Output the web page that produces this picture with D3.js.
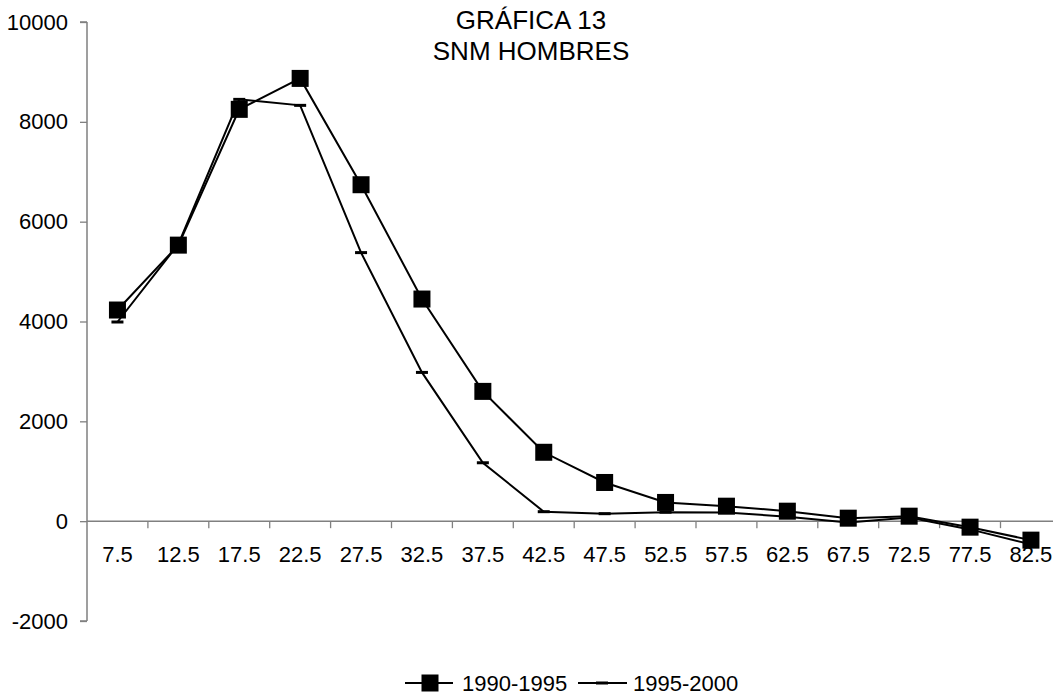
<!DOCTYPE html>
<html>
<head>
<meta charset="utf-8">
<script src="https://cdn.jsdelivr.net/npm/d3@7"></script>
<style>
  html, body { margin: 0; padding: 0; background: #fff; }
  svg { display: block; font-family: "Liberation Sans", Arial, sans-serif; }
</style>
</head>
<body>
<svg id="chart" width="1053" height="696"></svg>
<script>
const categories = ["7.5","12.5","17.5","22.5","27.5","32.5","37.5","42.5","47.5","52.5","57.5","62.5","67.5","72.5","77.5","82.5"];
const series1990 = [4230, 5530, 8250, 8870, 6740, 4450, 2600, 1380, 775, 375, 300, 200, 60, 100, -120, -380];
const series1995 = [3990, 5550, 8450, 8330, 5380, 2980, 1170, 190, 150, 180, 175, 90, -25, 75, -165, -465];
const yTicks = [-2000, 0, 2000, 4000, 6000, 8000, 10000];
const titleLines = ["GRÁFICA 13", "SNM HOMBRES"];
const legendLabels = ["1990-1995", "1995-2000"];

const svg = d3.select("#chart");
const x = d3.scaleBand().domain(categories).range([87, 87 + 16 * 60.9]).padding(0);
const y = d3.scaleLinear().domain([-2000, 10000]).range([621, 22]);
const axisColor = "#808080";
const cx = d => x(d) + x.bandwidth() / 2;

// Title
svg.append("g").selectAll("text").data(titleLines).join("text")
  .attr("x", 531).attr("y", (d, i) => 29 + i * 31)
  .attr("text-anchor", "middle").attr("font-size", 26).attr("fill", "#000")
  .text(d => d);

// Y axis
const yAxis = d3.axisLeft(y).tickValues(yTicks).tickSize(7).tickPadding(12).tickFormat(d => String(d));
const gy = svg.append("g").attr("transform", "translate(87,0)").call(yAxis);
gy.select(".domain").attr("stroke", axisColor).attr("stroke-width", 1.5).attr("d", `M0,${y(10000)}V${y(-2000)}M-7,${y(10000)}H0M-7,${y(-2000)}H0`);
gy.selectAll(".tick line").attr("stroke", axisColor).attr("stroke-width", 1.3);
gy.selectAll(".tick text").attr("font-size", 22).attr("fill", "#000").attr("font-family", "Liberation Sans, Arial, sans-serif");

// X axis at y=0
const y0 = y(0);
svg.append("line").attr("x1", 87).attr("x2", 1053).attr("y1", y0).attr("y2", y0)
  .attr("stroke", axisColor).attr("stroke-width", 1.5);
const edges = categories.map(c => x(c)).concat([x(categories[categories.length - 1]) + x.bandwidth()]);
svg.append("g").selectAll("line").data(edges.slice(1)).join("line")
  .attr("x1", d => d).attr("x2", d => d).attr("y1", y0).attr("y2", y0 + 7)
  .attr("stroke", axisColor).attr("stroke-width", 1.3);
svg.append("g").selectAll("text").data(categories).join("text")
  .attr("x", d => cx(d)).attr("y", 562).attr("text-anchor", "middle")
  .attr("font-size", 22).attr("fill", "#000").text(d => d);

// Lines
const line = d3.line().x((d, i) => cx(categories[i])).y(d => y(d));
svg.append("path").datum(series1995).attr("d", line).attr("fill", "none").attr("stroke", "#000").attr("stroke-width", 2);
svg.append("path").datum(series1990).attr("d", line).attr("fill", "none").attr("stroke", "#000").attr("stroke-width", 2);

// Markers
svg.append("g").selectAll("rect").data(series1995).join("rect")
  .attr("x", (d, i) => cx(categories[i]) - 6).attr("y", d => y(d) - 1.5)
  .attr("width", 12).attr("height", 3).attr("fill", "#000");
svg.append("g").selectAll("rect").data(series1990).join("rect")
  .attr("x", (d, i) => cx(categories[i]) - 8.5).attr("y", d => y(d) - 8.5)
  .attr("width", 17).attr("height", 17).attr("fill", "#000");

// Legend
const lg = svg.append("g");
lg.append("line").attr("x1", 405).attr("x2", 453).attr("y1", 683).attr("y2", 683).attr("stroke", "#000").attr("stroke-width", 2);
lg.append("rect").attr("x", 430 - 8.5).attr("y", 683 - 8.5).attr("width", 17).attr("height", 17).attr("fill", "#000");
lg.append("text").attr("x", 462).attr("y", 691).attr("font-size", 22).text(legendLabels[0]);
lg.append("line").attr("x1", 578).attr("x2", 627).attr("y1", 683).attr("y2", 683).attr("stroke", "#000").attr("stroke-width", 2);
lg.append("rect").attr("x", 602 - 6).attr("y", 683 - 1.5).attr("width", 12).attr("height", 3).attr("fill", "#000");
lg.append("text").attr("x", 633).attr("y", 691).attr("font-size", 22).text(legendLabels[1]);
</script>
</body>
</html>
